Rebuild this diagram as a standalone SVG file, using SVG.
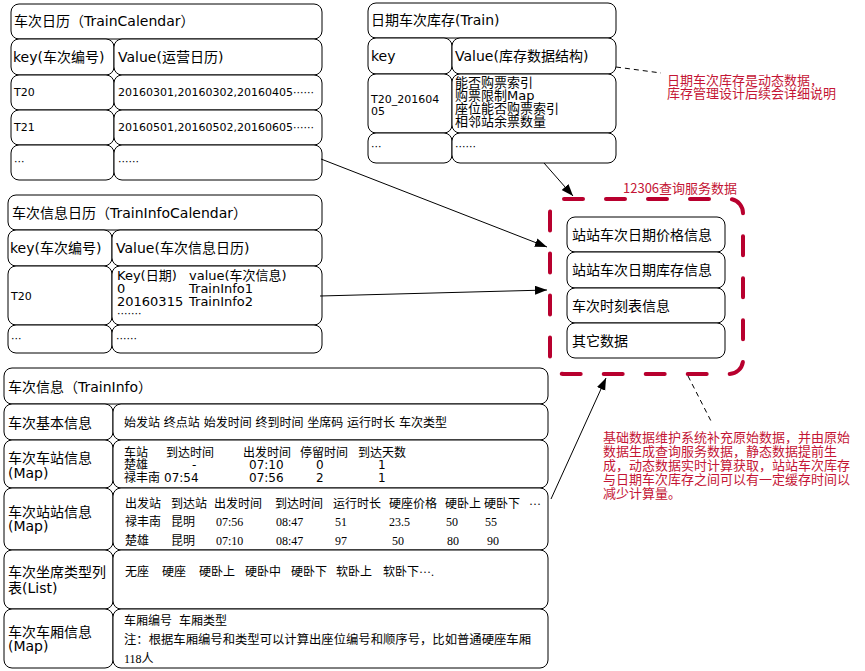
<svg xmlns="http://www.w3.org/2000/svg" width="865" height="671" viewBox="0 0 865 671">
<defs>
<style>
.c{fill:#fff;stroke:#000;stroke-width:1}
.t{font-family:"DejaVu Sans","Noto Sans CJK SC",sans-serif;font-size:14px;fill:#000}
.s{font-family:"DejaVu Sans","Noto Sans CJK SC",sans-serif;font-size:11px;fill:#000}
.m{font-family:"DejaVu Sans","Noto Sans CJK SC",sans-serif;font-size:12px;fill:#000}
.m13{font-family:"DejaVu Sans","Noto Sans CJK SC",sans-serif;font-size:13px;fill:#000}
.sf{font-family:"Liberation Serif","Noto Sans CJK SC",serif;font-size:12px;fill:#000}
.r{font-family:"Noto Sans CJK SC",sans-serif;font-size:13px;fill:#c41535}
.ln{stroke:#000;stroke-width:1;fill:none}
.dl{stroke:#000;stroke-width:1;fill:none;stroke-dasharray:5 4}
</style>
<marker id="ah" markerUnits="userSpaceOnUse" markerWidth="13" markerHeight="10" refX="12" refY="4.5" orient="auto">
<path d="M0,0 L12,4.5 L0,9 z" fill="#000"/>
</marker>
</defs>
<rect width="865" height="671" fill="#fff"/>

<g id="trainCalendar">
<rect class="c" x="11" y="4" width="311" height="35" rx="8"/>
<rect class="c" x="11" y="39" width="103" height="36" rx="8"/>
<rect class="c" x="114" y="39" width="208" height="36" rx="8"/>
<rect class="c" x="11" y="75" width="103" height="35" rx="8"/>
<rect class="c" x="114" y="75" width="208" height="35" rx="8"/>
<rect class="c" x="11" y="110" width="103" height="35" rx="8"/>
<rect class="c" x="114" y="110" width="208" height="35" rx="8"/>
<rect class="c" x="11" y="145" width="103" height="35" rx="8"/>
<rect class="c" x="114" y="145" width="208" height="35" rx="8"/>
<text class="t" x="14" y="26">车次日历（TrainCalendar）</text>
<text class="t" x="13" y="62">key(车次编号)</text>
<text class="t" x="118" y="62">Value(运营日历)</text>
<text class="s" x="14" y="96">T20</text>
<text class="s" x="118" y="96">20160301,20160302,20160405······</text>
<text class="s" x="14" y="131">T21</text>
<text class="s" x="118" y="131">20160501,20160502,20160605······</text>
<text class="s" x="14" y="165">···</text>
<text class="s" x="118" y="165">······</text>
</g>

<g id="trainInfoCalendar">
<rect class="c" x="8" y="195" width="314" height="35" rx="8"/>
<rect class="c" x="8" y="230" width="104" height="36" rx="8"/>
<rect class="c" x="112" y="230" width="210" height="36" rx="8"/>
<rect class="c" x="8" y="266" width="104" height="59" rx="8"/>
<rect class="c" x="112" y="266" width="210" height="59" rx="8"/>
<rect class="c" x="8" y="325" width="104" height="28" rx="8"/>
<rect class="c" x="112" y="325" width="210" height="28" rx="8"/>
<text class="t" x="12" y="218">车次信息日历（TrainInfoCalendar）</text>
<text class="t" x="10" y="253">key(车次编号)</text>
<text class="t" x="116" y="253">Value(车次信息日历)</text>
<text class="s" x="11" y="300">T20</text>
<text class="m13"><tspan x="117" y="280">Key(日期)</tspan><tspan x="117" dy="13">0</tspan><tspan x="117" dy="13">20160315</tspan></text>
<text class="m13"><tspan x="189" y="280">value(车次信息)</tspan><tspan x="189" dy="13">TrainInfo1</tspan><tspan x="189" dy="13">TrainInfo2</tspan></text>
<text class="s" x="117" y="317">·······</text>
<text class="s" x="11" y="342">···</text>
<text class="s" x="116" y="342">······</text>
</g>

<g id="train">
<rect class="c" x="368" y="3" width="248" height="35" rx="8"/>
<rect class="c" x="368" y="38" width="84" height="36" rx="8"/>
<rect class="c" x="452" y="38" width="164" height="36" rx="8"/>
<rect class="c" x="368" y="74" width="84" height="59" rx="8"/>
<rect class="c" x="452" y="74" width="164" height="59" rx="8"/>
<rect class="c" x="368" y="133" width="84" height="30" rx="8"/>
<rect class="c" x="452" y="133" width="164" height="30" rx="8"/>
<text class="t" x="371" y="25">日期车次库存(Train)</text>
<text class="t" x="371" y="61">key</text>
<text class="t" x="455" y="61">Value(库存数据结构)</text>
<text class="s"><tspan x="371" y="103">T20_201604</tspan><tspan x="371" dy="12">05</tspan></text>
<text class="m13"><tspan x="455" y="87">能否购票索引</tspan><tspan x="455" dy="13">购票限制Map</tspan><tspan x="455" dy="13">座位能否购票索引</tspan><tspan x="455" dy="13">相邻站余票数量</tspan></text>
<text class="s" x="371" y="150">···</text>
<text class="s" x="455" y="150">······</text>
</g>

<g id="queryService">
<rect x="550" y="199" width="193" height="175" rx="14" fill="none" stroke="#b8002e" stroke-width="4" stroke-linecap="round" stroke-dasharray="19 23"/>
<text class="r" x="623" y="193">12306查询服务数据</text>
<rect class="c" x="567" y="217" width="158" height="35" rx="8"/>
<rect class="c" x="567" y="252" width="158" height="36" rx="8"/>
<rect class="c" x="567" y="288" width="158" height="35" rx="8"/>
<rect class="c" x="567" y="323" width="158" height="35" rx="8"/>
<text class="t" x="572" y="240">站站车次日期价格信息</text>
<text class="t" x="572" y="275">站站车次日期库存信息</text>
<text class="t" x="572" y="311">车次时刻表信息</text>
<text class="t" x="572" y="346">其它数据</text>
</g>

<g id="trainInfo">
<rect class="c" x="4" y="368" width="544" height="36" rx="8"/>
<rect class="c" x="4" y="404" width="109" height="36" rx="8"/>
<rect class="c" x="113" y="404" width="435" height="36" rx="8"/>
<rect class="c" x="4" y="440" width="109" height="48" rx="8"/>
<rect class="c" x="113" y="440" width="435" height="48" rx="8"/>
<rect class="c" x="4" y="488" width="109" height="62" rx="8"/>
<rect class="c" x="113" y="488" width="435" height="62" rx="8"/>
<rect class="c" x="4" y="550" width="109" height="59" rx="8"/>
<rect class="c" x="113" y="550" width="435" height="59" rx="8"/>
<rect class="c" x="4" y="609" width="109" height="59" rx="8"/>
<rect class="c" x="113" y="609" width="435" height="59" rx="8"/>
<text class="t" x="8" y="392">车次信息（TrainInfo）</text>
<text class="t" x="8" y="428">车次基本信息</text>
<text class="m" x="124" y="427">始发站 终点站 始发时间 终到时间 坐席码 运行时长 车次类型</text>
<text class="t"><tspan x="8" y="463">车次车站信息</tspan><tspan x="8" dy="15">(Map)</tspan></text>
<g class="m">
<text x="124" y="457">车站</text><text x="166" y="457">到达时间</text><text x="243" y="457">出发时间</text><text x="300" y="457">停留时间</text><text x="358" y="457">到达天数</text>
<text x="124" y="469">楚雄</text><text x="192" y="469">-</text><text x="249" y="469">07:10</text><text x="316" y="469">0</text><text x="378" y="469">1</text>
<text x="124" y="482">禄丰南</text><text x="164" y="482">07:54</text><text x="249" y="482">07:56</text><text x="316" y="482">2</text><text x="378" y="482">1</text>
</g>
<text class="t"><tspan x="8" y="517">车次站站信息</tspan><tspan x="8" dy="14">(Map)</tspan></text>
<g class="sf">
<text x="125" y="508">出发站</text><text x="171" y="508">到达站</text><text x="214" y="508">出发时间</text><text x="275" y="508">到达时间</text><text x="333" y="508">运行时长</text><text x="389" y="508">硬座价格</text><text x="445" y="508">硬卧上</text><text x="484" y="508">硬卧下</text><text x="529" y="508">···</text>
<text x="125" y="526">禄丰南</text><text x="171" y="526">昆明</text><text x="216" y="526">07:56</text><text x="276" y="526">08:47</text><text x="335" y="526">51</text><text x="389" y="526">23.5</text><text x="446" y="526">50</text><text x="485" y="526">55</text>
<text x="125" y="545">楚雄</text><text x="171" y="545">昆明</text><text x="216" y="545">07:10</text><text x="276" y="545">08:47</text><text x="335" y="545">97</text><text x="392" y="545">50</text><text x="447" y="545">80</text><text x="487" y="545">90</text>
</g>
<text class="t"><tspan x="8" y="577">车次坐席类型列</tspan><tspan x="8" dy="16">表(List)</tspan></text>
<g class="sf">
<text x="125" y="576">无座</text><text x="162" y="576">硬座</text><text x="199" y="576">硬卧上</text><text x="245" y="576">硬卧中</text><text x="291" y="576">硬卧下</text><text x="336" y="576">软卧上</text><text x="383" y="576">软卧下···.</text>
</g>
<text class="t"><tspan x="8" y="637">车次车厢信息</tspan><tspan x="8" dy="14">(Map)</tspan></text>
<text class="sf" x="124" y="625">车厢编号</text>
<text class="sf" x="179" y="625">车厢类型</text>
<text class="sf" x="124" y="644" textLength="407" lengthAdjust="spacingAndGlyphs">注：根据车厢编号和类型可以计算出座位编号和顺序号，比如普通硬座车厢</text>
<text class="sf" x="124" y="663">118人</text>
</g>

<g id="notes">
<text class="r"><tspan x="667" y="85">日期车次库存是动态数据，</tspan><tspan x="667" dy="13">库存管理设计后续会详细说明</tspan></text>
<text class="r"><tspan x="603" y="442">基础数据维护系统补充原始数据，并由原始</tspan><tspan x="603" dy="14">数据生成查询服务数据，静态数据提前生</tspan><tspan x="603" dy="14">成，动态数据实时计算获取，站站车次库存</tspan><tspan x="603" dy="14">与日期车次库存之间可以有一定缓存时间以</tspan><tspan x="603" dy="14">减少计算量。</tspan></text>
</g>

<g id="connectors">
<line class="ln" x1="321" y1="159" x2="547" y2="247" marker-end="url(#ah)"/>
<line class="ln" x1="320" y1="296" x2="547" y2="290" marker-end="url(#ah)"/>
<line class="ln" x1="544" y1="163" x2="573" y2="196" marker-end="url(#ah)"/>
<line class="ln" x1="551" y1="499" x2="606" y2="378" marker-end="url(#ah)"/>
<line class="dl" x1="616" y1="67" x2="661" y2="73"/>
<line class="dl" x1="688" y1="376" x2="712" y2="423"/>
</g>
</svg>
